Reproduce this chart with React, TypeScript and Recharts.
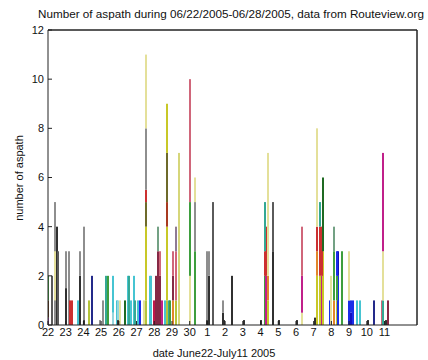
import React from "react";
import { ComposedChart, Bar, Cell, Line, XAxis, YAxis, ReferenceLine } from "recharts";

// tick labels (one per day, every 24 hours)
const dayLabels = ["22", "23", "24", "25", "26", "27", "28", "29", "30", "1", "2", "3", "4", "5", "6", "7", "8", "9", "10", "11"];
const yTicks = [0, 2, 4, 6, 8, 10, 12];

// colours of the stacked segments
const palette: Record<string, string> = {
  purple: "#8a3a9a",
  brown: "#5a3418",
  green: "#3e9e3e",
  dgreen: "#1f6a22",
  ygreen: "#b4c43a",
  yellow: "#c8c828",
  lyellow: "#d6d67a",
  pyellow: "#e4e09a",
  olive: "#6e6a2a",
  gray: "#8e8e8e",
  dgray: "#5a5a5a",
  dark: "#303030",
  red: "#cc3030",
  rose: "#d0667a",
  maroon: "#862845",
  crimson: "#c0184a",
  magenta: "#c0208a",
  rbrown: "#a83a20",
  orange: "#e2862a",
  cyan: "#46c4d2",
  lcyan: "#94d6de",
  teal: "#34a894",
  ggreen: "#73a184",
  gpurple: "#8e7a94",
  blue: "#1a2ee8",
  dblue: "#1010c0",
  navy: "#242a8a",
};

// time of each bar, hours after 06/22 00:00
const barHours = [
  0, 6, 9, 10, 12, 13, 24, 28, 30, 32, 41, 44, 49, 55, 59, 71, 75, 79, 81, 88,
  93, 95, 98, 104, 108, 110, 112, 116, 118, 122, 125, 130, 133, 138, 140, 144, 146, 149, 152, 155,
  159, 161, 164, 166, 169, 173, 177, 193, 199, 215, 218, 224, 237, 239, 249, 265, 289, 294, 296, 298,
  305, 313, 338, 344, 362, 364, 368, 371, 373, 382, 384, 388, 391, 393, 398, 408, 411, 413, 419, 423,
  434, 442, 452, 454, 458, 461,
];

// stacked segments of each bar, bottom to top: [number of aspath, colour]
const barSegments: [number, string][][] = [
  [[0.3, "purple"], [0.7, "brown"], [1, "green"]],
  [[2, "dgray"]],
  [[1, "ygreen"], [2, "pyellow"]],
  [[5, "gray"]],
  [[4, "dark"]],
  [[3, "dgray"]],
  [[1.5, "dark"], [1.5, "gray"]],
  [[3, "gray"]],
  [[1, "red"]],
  [[1, "red"]],
  [[1, "cyan"]],
  [[2, "dark"], [1, "gray"]],
  [[0.2, "dark"], [3.8, "gray"]],
  [[1, "ygreen"]],
  [[2, "navy"]],
  [[0.2, "gray"]],
  [[1, "gray"]],
  [[2, "teal"]],
  [[2, "green"]],
  [[0.5, "lcyan"], [1.5, "cyan"]],
  [[1, "cyan"]],
  [[0.2, "dark"], [0.8, "lcyan"]],
  [[1, "pyellow"]],
  [[1, "dgreen"]],
  [[2, "cyan"]],
  [[2, "teal"]],
  [[1, "cyan"]],
  [[2, "cyan"]],
  [[1, "teal"]],
  [[1, "cyan"]],
  [[1, "blue"]],
  [[1, "pyellow"]],
  [[1, "ygreen"], [3, "yellow"], [1, "olive"], [0.5, "red"], [2.5, "gray"], [3, "pyellow"]],
  [[2, "cyan"]],
  [[2, "cyan"]],
  [[1, "crimson"]],
  [[2, "maroon"]],
  [[3, "maroon"], [1, "ggreen"]],
  [[2, "maroon"], [1, "rose"]],
  [[1, "magenta"]],
  [[1, "cyan"]],
  [[1, "ygreen"], [3, "yellow"], [1, "rbrown"], [2, "olive"], [2, "yellow"]],
  [[1, "teal"]],
  [[1, "green"]],
  [[1, "orange"], [1, "maroon"], [1, "rose"]],
  [[1, "ygreen"], [2, "rose"], [1, "gpurple"]],
  [[7, "lyellow"]],
  [[2, "pyellow"], [3, "green"], [5, "rose"]],
  [[3, "green"], [2, "gray"], [1, "pyellow"]],
  [[0.2, "dark"], [2.8, "gray"]],
  [[2, "dark"], [1, "gray"]],
  [[5, "dgray"]],
  [[0.5, "dark"], [0.5, "gray"]],
  [[0.2, "dark"]],
  [[2, "dark"]],
  [[0.2, "dark"]],
  [[0.2, "dark"]],
  [[2, "green"], [1, "red"], [2, "teal"]],
  [[2, "magenta"], [2, "red"]],
  [[1, "yellow"], [1, "orange"], [5, "pyellow"]],
  [[3, "dark"], [2, "dgray"]],
  [[0.2, "dark"]],
  [[0.2, "dark"]],
  [[0.5, "pyellow"], [1.5, "magenta"], [2, "rose"]],
  [[0.3, "dark"]],
  [[2, "yellow"], [1, "orange"], [1, "red"], [4, "pyellow"]],
  [[2, "yellow"], [2, "red"], [1, "teal"]],
  [[2, "magenta"], [2, "red"]],
  [[3, "yellow"], [3, "dgreen"]],
  [[1, "blue"]],
  [[2, "pyellow"]],
  [[1, "orange"], [2, "green"], [1, "ggreen"]],
  [[1, "ygreen"], [1, "green"], [1, "blue"]],
  [[2, "blue"], [1, "dblue"]],
  [[3, "green"]],
  [[1, "blue"], [2, "pyellow"]],
  [[0.5, "dblue"], [0.5, "blue"]],
  [[1, "blue"]],
  [[1, "cyan"]],
  [[1, "cyan"]],
  [[0.2, "dark"]],
  [[1, "navy"]],
  [[1, "rose"]],
  [[1, "teal"], [2, "pyellow"], [4, "magenta"]],
  [[0.2, "dark"]],
  [[1, "maroon"]],
];

const LAYERS = 6;
const FONT = "'Liberation Sans', Arial, Helvetica, sans-serif";

const table = barHours.map((h, i) => {
  const row: Record<string, number | string> = { h };
  for (let k = 0; k < LAYERS; k++) {
    const s = barSegments[i][k];
    row["v" + k] = s ? s[0] : 0;
    row["c" + k] = s ? palette[s[1]] : "none";
  }
  return row;
});

const xTicks = dayLabels.map((_, i) => i * 24);
const tickStyle = { fontFamily: FONT, fontSize: 11, fill: "#111" };

// a 2px-wide stem centred on the position the library computed
const StemShape = (p: any) => {
  const { x, y, width, height, fill } = p;
  if (!height || !isFinite(height) || fill === "none") return <g />;
  const cx = x + width / 2;
  const left = Math.round(cx - 1);
  const top = Math.min(y, y + height);
  return <rect x={left} y={top} width={2} height={Math.abs(height)} fill={fill} />;
};

export default function App() {
  return (
    <div style={{ position: "absolute", left: 0, top: 0, width: 428, height: 360, background: "#fff" }}>
      <ComposedChart
        width={428}
        height={360}
        data={table}
        margin={{ top: 29, right: 10, bottom: 10, left: 8 }}
      >
        <XAxis
          xAxisId="b"
          type="number"
          dataKey="h"
          domain={[0, 500]}
          ticks={xTicks}
          allowDataOverflow
          height={25}
          stroke="#222"
          tickSize={-4}
          tickMargin={7}
          tick={tickStyle}
          tickFormatter={(v: number) => dayLabels[Math.round(v / 24)] ?? ""}
          interval={0}
        />
        <XAxis
          xAxisId="t"
          orientation="top"
          type="number"
          dataKey="h"
          domain={[0, 500]}
          ticks={xTicks}
          allowDataOverflow
          height={1}
          stroke="#222"
          tickSize={-4}
          tick={false}
          interval={0}
        />
        <YAxis
          yAxisId="l"
          type="number"
          domain={[0, 12]}
          ticks={yTicks}
          width={40}
          stroke="#222"
          tickSize={-4}
          tickMargin={8}
          tick={tickStyle}
          interval={0}
        />
        <YAxis
          yAxisId="r"
          orientation="right"
          type="number"
          domain={[0, 12]}
          ticks={yTicks}
          allowDataOverflow
          width={1}
          stroke="#222"
          tickSize={-4}
          tick={false}
          interval={0}
        />
        <ReferenceLine xAxisId="b" yAxisId="l" y={12} stroke="#222" ifOverflow="visible" />
        <ReferenceLine xAxisId="b" yAxisId="l" x={500} stroke="#222" ifOverflow="visible" />
        {/* carrier for the top / right frame axes, drawn invisibly */}
        <Line
          xAxisId="t"
          yAxisId="r"
          dataKey="v0"
          stroke="none"
          dot={false}
          activeDot={false}
          legendType="none"
          isAnimationActive={false}
        />
        {Array.from({ length: LAYERS }, (_, k) => (
          <Bar
            key={k}
            xAxisId="b"
            yAxisId="l"
            dataKey={"v" + k}
            stackId="s"
            barSize={2}
            shape={StemShape}
            isAnimationActive={false}
          >
            {table.map((r, i) => (
              <Cell key={i} fill={r["c" + k] as string} />
            ))}
          </Bar>
        ))}
      </ComposedChart>
      <svg
        width={428}
        height={360}
        style={{ position: "absolute", left: 0, top: 0, pointerEvents: "none" }}
      >
        <text x={231} y={18} textAnchor="middle" fontFamily={FONT} fontSize={11.7} fill="#111">
          Number of aspath during 06/22/2005-06/28/2005, data from Routeview.org
        </text>
        <text x={214} y={357} textAnchor="middle" fontFamily={FONT} fontSize={11} fill="#111">
          date June22-July11 2005
        </text>
        <text
          x={23}
          y={178}
          textAnchor="middle"
          fontFamily={FONT}
          fontSize={11}
          fill="#111"
          transform="rotate(-90 23 178)"
        >
          number of aspath
        </text>
      </svg>
    </div>
  );
}
